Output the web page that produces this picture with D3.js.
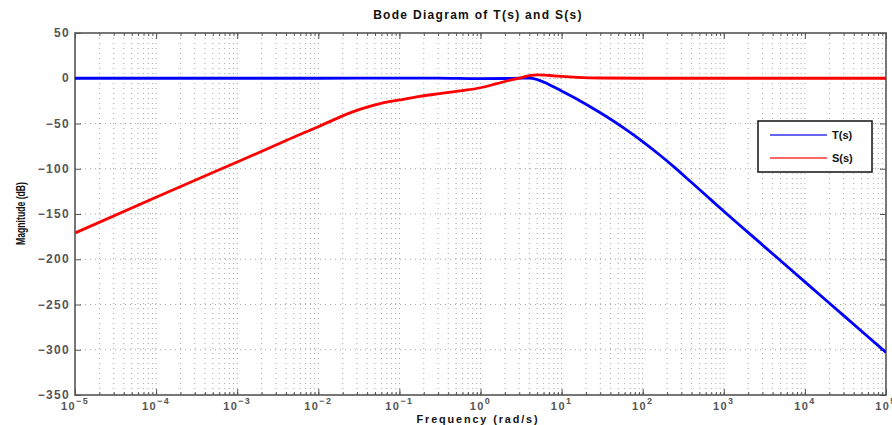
<!DOCTYPE html>
<html>
<head>
<meta charset="utf-8">
<script src="https://cdn.jsdelivr.net/npm/d3@7"></script>
<style>
  html, body { margin: 0; padding: 0; background: #fff; }
  svg { display: block; font-family: Arial, "Liberation Sans", Helvetica, sans-serif; }
</style>
</head>
<body>
<svg id="chart" width="892" height="425"></svg>
<script>
// ---- Data ----
const titleText = "Bode Diagram of T(s) and S(s)";
const xLabelText = "Frequency  (rad/s)";
const yLabelText = "Magnitude (dB)";
const seriesNames = ["T(s)", "S(s)"];

const xDecadeExponents = [-5, -4, -3, -2, -1, 0, 1, 2, 3, 4, 5];
const yTickValues = [50, 0, -50, -100, -150, -200, -250, -300, -350];

// T(s): frequency (rad/s) and magnitude (dB)
const tFreq = [1e-5, 1e-4, 1e-3, 1e-2, 0.1, 0.3, 1, 2, 3, 3.98, 5.01, 6.31, 7.94, 10,
               15.8, 25.1, 39.8, 63.1, 100, 158, 251, 398, 631, 1000, 3162, 1e4, 31623, 1e5];
const tMag  = [0, 0, 0, 0, 0.2, 0.1, -0.4, -0.3, 0.2, 0.3, -1.5, -5, -9.5, -14,
               -23.5, -34, -45, -57, -70, -84, -99, -115, -131, -147, -186, -225, -264, -303];

// S(s): frequency (rad/s) and magnitude (dB)
const sFreq = [1e-5, 1e-4, 1e-3, 0.00316, 0.00562, 0.01, 0.0178, 0.0251, 0.0355, 0.0562,
               0.1, 0.178, 0.316, 0.562, 1, 1.58, 2.24, 3.16, 3.98, 5.01, 6.31, 7.94, 10,
               15.8, 31.6, 100, 1000, 1e5];
const sMag  = [-171, -131.5, -92.5, -73, -63, -53.5, -43.5, -38, -33.3, -28.3,
               -24, -20, -17, -14, -10.5, -6, -2.5, 0.5, 2.8, 3.8, 3.5, 2.7, 2,
               1, 0.3, 0, 0, 0];

// ---- Layout ----
const W = 892, H = 425;
const L = 75, R = 886, T = 33, B = 395;

const svg = d3.select("#chart");

const x = d3.scaleLog().domain([1e-5, 1e5]).range([L, R]);
const y = d3.scaleLinear().domain([-350, 50]).range([B, T]);

// ---- Grid ----
const minorVals = [];
for (let e = -5; e < 5; e++) {
  for (let k = 1; k <= 9; k++) minorVals.push(k * Math.pow(10, e));
}
minorVals.push(1e5);

const gridColor = "#a6a6a6";
const grid = svg.append("g").attr("class", "grid");
grid.selectAll("line.v").data(minorVals.filter(v => v > 1e-5 && v < 1e5)).enter()
  .append("line").attr("class", "v")
  .attr("x1", d => x(d)).attr("x2", d => x(d))
  .attr("y1", T).attr("y2", B)
  .attr("stroke", gridColor).attr("stroke-width", 1)
  .attr("stroke-dasharray", "1,4");
grid.selectAll("line.h").data(yTickValues.filter(v => v > -350 && v < 50)).enter()
  .append("line").attr("class", "h")
  .attr("x1", L).attr("x2", R)
  .attr("y1", d => y(d)).attr("y2", d => y(d))
  .attr("stroke", gridColor).attr("stroke-width", 1)
  .attr("stroke-dasharray", "1,4");

// ---- Axes (box with inward ticks) ----
const axisColor = "#555";
const labelFont = "bold 12px Arial, 'Liberation Sans', sans-serif";
const tickFont = "bold 11px Arial, 'Liberation Sans', sans-serif";

const xMajor = xDecadeExponents.map(e => Math.pow(10, e));

svg.append("g").attr("transform", `translate(0,${B})`)
  .call(d3.axisBottom(x).tickValues(minorVals).tickSize(-3).tickFormat(""));
svg.append("g").attr("transform", `translate(0,${B})`)
  .call(d3.axisBottom(x).tickValues(xMajor).tickSize(-6).tickFormat(""));
svg.append("g").attr("transform", `translate(0,${T})`)
  .call(d3.axisTop(x).tickValues(minorVals).tickSize(-3).tickFormat(""));
svg.append("g").attr("transform", `translate(0,${T})`)
  .call(d3.axisTop(x).tickValues(xMajor).tickSize(-6).tickFormat(""));
svg.append("g").attr("transform", `translate(${L},0)`)
  .call(d3.axisLeft(y).tickValues(yTickValues).tickSize(-6).tickFormat(""));
svg.append("g").attr("transform", `translate(${R},0)`)
  .call(d3.axisRight(y).tickValues(yTickValues).tickSize(-6).tickFormat(""));

svg.selectAll(".tick line").attr("stroke", axisColor).attr("stroke-width", 1);
svg.selectAll(".domain").attr("stroke", "none");

svg.append("rect")
  .attr("x", L).attr("y", T).attr("width", R - L).attr("height", B - T)
  .attr("fill", "none").attr("stroke", axisColor).attr("stroke-width", 1.6);

// y tick labels
svg.append("g").selectAll("text").data(yTickValues).enter().append("text")
  .attr("x", L - 5).attr("y", d => y(d) + 4)
  .attr("text-anchor", "end")
  .attr("fill", "#555")
  .style("font", labelFont).style("letter-spacing", "1.3px")
  .text(d => d < 0 ? "\u2212" + Math.abs(d) : String(d));

// x tick labels: 10^e
const xl = svg.append("g").selectAll("text").data(xDecadeExponents).enter().append("text")
  .attr("x", d => x(Math.pow(10, d)))
  .attr("y", 410.3)
  .attr("text-anchor", "middle")
  .attr("fill", "#555")
  .style("font", tickFont).style("letter-spacing", "1.4px");
xl.append("tspan").text("10");
xl.append("tspan").attr("dy", -6.5).style("font-size", "9px")
  .text(d => d < 0 ? "\u2212" + Math.abs(d) : String(d));

// ---- Titles ----
svg.append("text").attr("x", 478).attr("y", 19).attr("text-anchor", "middle")
  .style("font", labelFont).style("letter-spacing", "1.3px").attr("fill", "#111")
  .text(titleText);
svg.append("text").attr("x", 478).attr("y", 422.6).attr("text-anchor", "middle")
  .style("font", "bold 10.8px Arial, 'Liberation Sans', sans-serif")
  .style("letter-spacing", "1.9px").attr("fill", "#111")
  .text(xLabelText);
svg.append("text")
  .attr("transform", "translate(25,213.5) rotate(-90)")
  .attr("text-anchor", "middle")
  .attr("textLength", 63).attr("lengthAdjust", "spacingAndGlyphs")
  .style("font", "bold 12px Arial, 'Liberation Sans', sans-serif").attr("fill", "#111")
  .text(yLabelText);

// ---- Curves ----
const lineGen = d3.line()
  .x(d => x(d[0])).y(d => y(d[1]))
  .curve(d3.curveMonotoneX);

svg.append("clipPath").attr("id", "plotclip")
  .append("rect").attr("x", L).attr("y", T).attr("width", R - L).attr("height", B - T);

const curves = svg.append("g").attr("clip-path", "url(#plotclip)");
curves.append("path")
  .datum(tFreq.map((f, i) => [f, tMag[i]]))
  .attr("d", lineGen)
  .attr("fill", "none").attr("stroke", "#0000ff").attr("stroke-width", 2.8)
  .attr("stroke-linejoin", "round");
curves.append("path")
  .datum(sFreq.map((f, i) => [f, sMag[i]]))
  .attr("d", lineGen)
  .attr("fill", "none").attr("stroke", "#ff0000").attr("stroke-width", 2.8)
  .attr("stroke-linejoin", "round");

// ---- Legend ----
const lg = svg.append("g");
lg.append("rect").attr("x", 758).attr("y", 121).attr("width", 114).attr("height", 51)
  .attr("fill", "#fff").attr("stroke", "#111").attr("stroke-width", 1.5);
const legendColors = ["#3333ee", "#ff6666"];
seriesNames.forEach((name, i) => {
  const yy = 135 + i * 23;
  lg.append("line").attr("x1", 770).attr("x2", 827).attr("y1", yy).attr("y2", yy)
    .attr("stroke", legendColors[i]).attr("stroke-width", i === 0 ? 1.5 : 2);
  lg.append("text").attr("x", 832).attr("y", yy + 4)
    .style("font", "bold 11px Arial, 'Liberation Sans', sans-serif").attr("fill", "#111")
    .text(name);
});
</script>
</body>
</html>
